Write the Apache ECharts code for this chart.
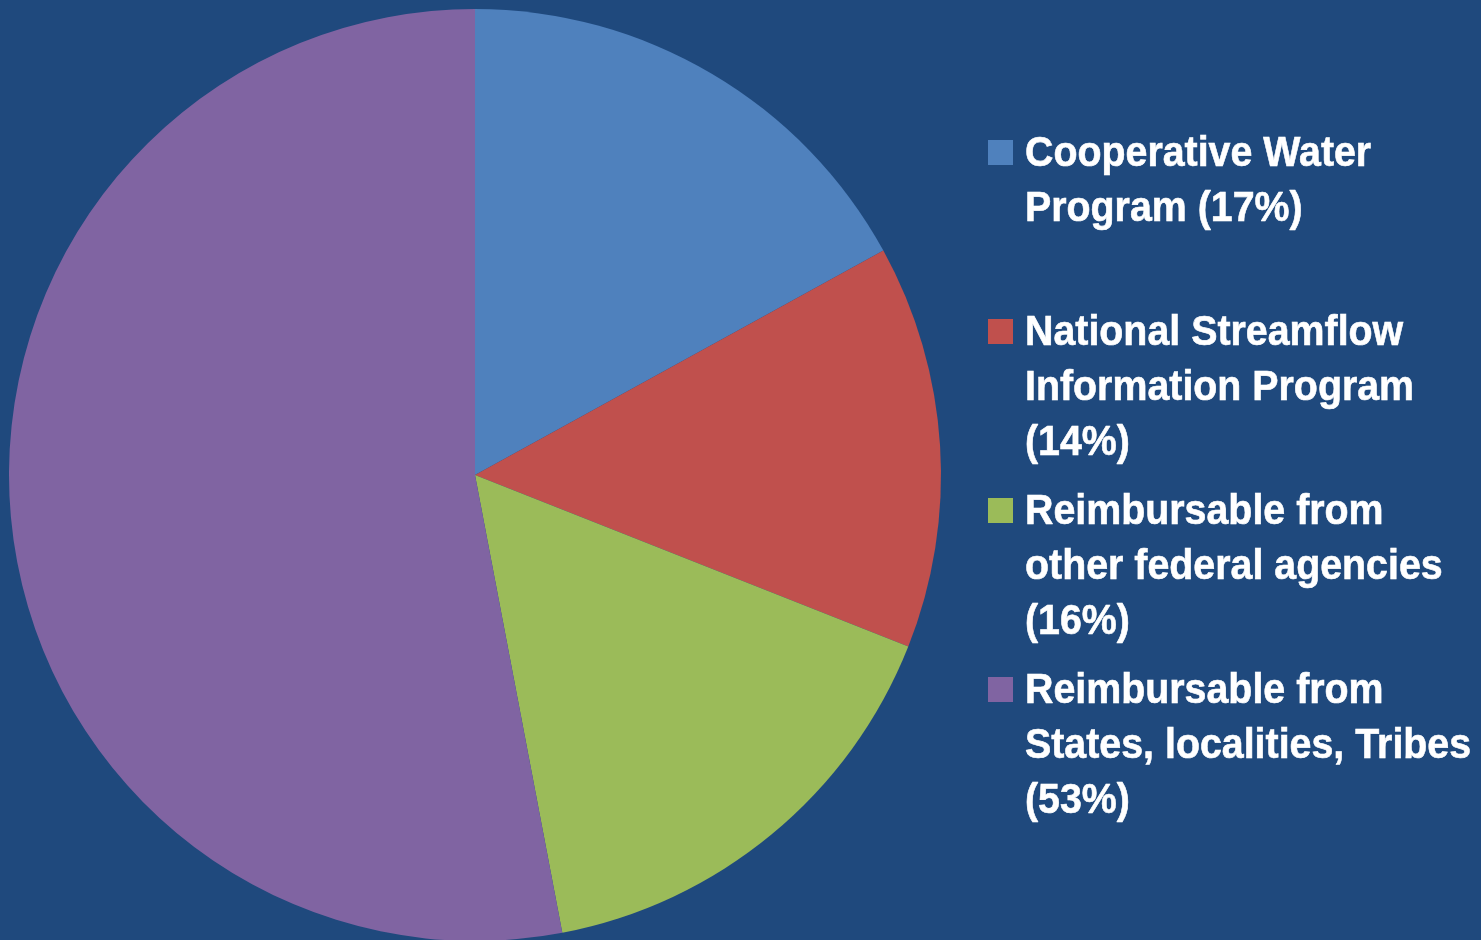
<!DOCTYPE html>
<html>
<head>
<meta charset="utf-8">
<script src="https://cdn.jsdelivr.net/npm/echarts@6/dist/echarts.min.js"></script>
<style>
  html, body { margin: 0; padding: 0; background: #1f497d; }
  #main { width: 1481px; height: 940px; }
</style>
</head>
<body>
<div id="main"></div>
<script>
// slice names as they appear in the legend (line breaks as in the picture)
const categories = [
    "Cooperative Water\nProgram (17%)",
    "National Streamflow\nInformation Program\n(14%)",
    "Reimbursable from\nother federal agencies\n(16%)",
    "Reimbursable from\nStates, localities, Tribes\n(53%)"
];
const shares = [17, 14, 16, 53];
const colors = ['#4f81bd', '#c0504d', '#9bbb59', '#8064a2'];

// legend first-line centers
const legendTops = [153, 332, 511, 690];
// no narrow font installed, so squeeze Liberation Sans bold sideways
const font = "bold 43px 'Liberation Sans', Arial, sans-serif";

let legendItems = [];
categories.forEach(function (name, i) {
    legendItems.push({
        type: 'rect',
        shape: { x: 988, y: legendTops[i] - 13, width: 25, height: 25 },
        style: { fill: colors[i] }
    });
    legendItems.push({
        type: 'text',
        x: 1025,
        y: legendTops[i] - 26,
        scaleX: 0.915,
        style: {
            text: name,
            font: font,
            lineHeight: 55,
            fill: '#ffffff',
            stroke: '#ffffff',
            lineWidth: 0.6,
            verticalAlign: 'top'
        }
    });
});

let option = {
    backgroundColor: '#1f497d',
    color: colors,
    animation: false,
    series: [
        {
            type: 'pie',
            center: [475, 475],
            radius: 466,
            startAngle: 90,
            clockwise: true,
            label: { show: false },
            labelLine: { show: false },
            itemStyle: { borderWidth: 0 },
            emphasis: { disabled: true },
            data: categories.map(function (n, i) {
                return { name: n, value: shares[i] };
            })
        }
    ],
    graphic: legendItems
};

let chart = echarts.init(document.getElementById('main'));
chart.setOption(option);
</script>
</body>
</html>
